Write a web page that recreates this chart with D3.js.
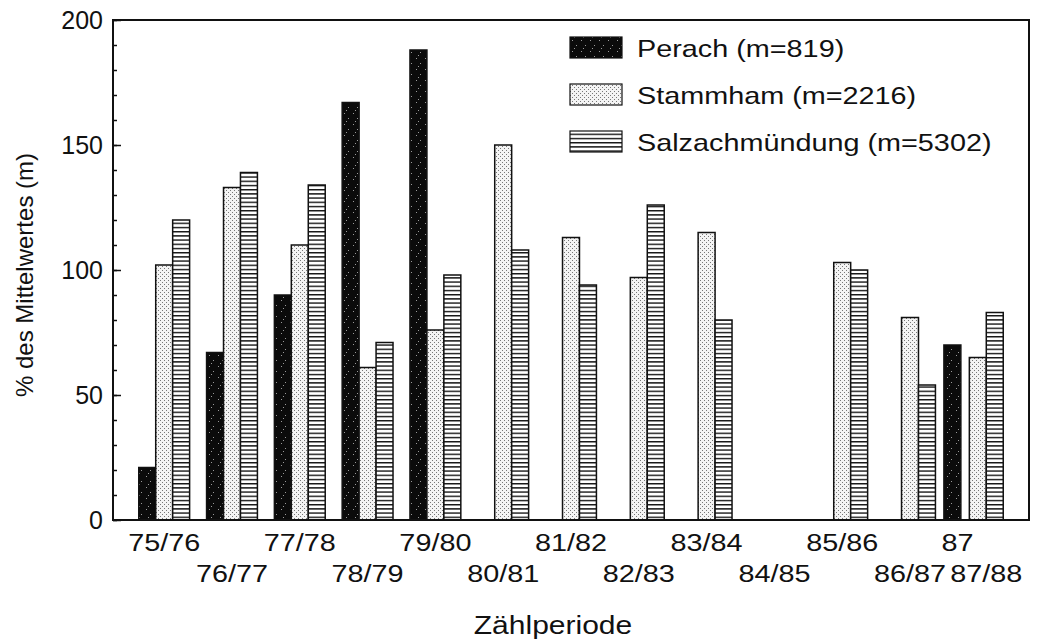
<!DOCTYPE html>
<html>
<head>
<meta charset="utf-8">
<script src="https://cdn.jsdelivr.net/npm/d3@7"></script>
<style>
  body { margin: 0; background: #fff; }
  text { font-family: "Liberation Sans", Arial, sans-serif; fill: #111; }
</style>
</head>
<body>
<div class="chart"></div>
<script>
// Zählperioden (Gruppen) und Werte in % des Mittelwertes
const periods = ["75/76", "76/77", "77/78", "78/79", "79/80", "80/81", "81/82",
                 "82/83", "83/84", "84/85", "85/86", "86/87", "87/88"];
const perach   = [21, 67, 90, 167, 188, null, null, null, null, null, null, null, null];
const stammham = [102, 133, 110, 61, 76, 150, 113, 97, 115, null, 103, 81, 65];
const salzach  = [120, 139, 134, 71, 98, 108, 94, 126, 80, null, 100, 54, 83];
// Einzelwert "87" (nur Perach), sitzt vor der Gruppe 87/88
const extraLabel = "87";
const extraPerach = 70;
const tickLabels = ["75/76", "76/77", "77/78", "78/79", "79/80", "80/81", "81/82",
                    "82/83", "83/84", "84/85", "85/86", "86/87", "87", "87/88"];
const seriesNames = ["Perach (m=819)", "Stammham (m=2216)", "Salzachmündung (m=5302)"];
const yTicks = [0, 50, 100, 150, 200];

const width = 1039, height = 642;
const margin = { top: 20, right: 10, bottom: 122, left: 113 };
const stretch = 1.2;

const svg = d3.select(".chart").append("svg")
    .attr("width", width)
    .attr("height", height);

// patterns
const defs = svg.append("defs");
const pDark = defs.append("pattern").attr("id", "pat-perach")
    .attr("patternUnits", "userSpaceOnUse").attr("width", 9).attr("height", 11);
pDark.append("rect").attr("width", 9).attr("height", 11).attr("fill", "#0b0b0b");
[[2, 3], [6, 8], [4, 0]].forEach(([px, py]) =>
  pDark.append("rect").attr("x", px).attr("y", py).attr("width", 1).attr("height", 1).attr("fill", "#9a9a9a"));

const pDot = defs.append("pattern").attr("id", "pat-stammham")
    .attr("patternUnits", "userSpaceOnUse").attr("width", 4).attr("height", 4);
pDot.append("rect").attr("width", 4).attr("height", 4).attr("fill", "#f4f4f4");
pDot.append("rect").attr("x", 0).attr("y", 0).attr("width", 1).attr("height", 1).attr("fill", "#777");
pDot.append("rect").attr("x", 2).attr("y", 2).attr("width", 1).attr("height", 1).attr("fill", "#777");

const pLine = defs.append("pattern").attr("id", "pat-salzach")
    .attr("patternUnits", "userSpaceOnUse").attr("width", 8).attr("height", 4.2);
pLine.append("rect").attr("width", 8).attr("height", 4.2).attr("fill", "#fff");
pLine.append("rect").attr("y", 0).attr("width", 8).attr("height", 1.4).attr("fill", "#111");

const fills = ["url(#pat-perach)", "url(#pat-stammham)", "url(#pat-salzach)"];

// scales
const x = d3.scaleBand()
    .domain(periods)
    .range([margin.left, width - margin.right])
    .paddingInner(0.25)
    .paddingOuter(0.38);

const sub = d3.scaleBand()
    .domain([0, 1, 2])
    .range([0, x.bandwidth()]);

const y = d3.scaleLinear()
    .domain([0, 200])
    .range([height - margin.bottom, margin.top]);

// bar data
const bars = [];
[perach, stammham, salzach].forEach((vals, s) => {
  vals.forEach((v, i) => {
    if (v != null) bars.push({ x: x(periods[i]) + sub(s), value: v, s });
  });
});
bars.push({ x: x("87/88") - sub.bandwidth() / 2, value: extraPerach, s: 0 });

svg.append("g")
  .selectAll("rect")
  .data(bars)
  .join("rect")
    .attr("x", d => d.x)
    .attr("y", d => y(d.value))
    .attr("width", sub.bandwidth())
    .attr("height", d => y(0) - y(d.value))
    .attr("fill", d => fills[d.s])
    .attr("stroke", "#111")
    .attr("stroke-width", 1.5);

// frame
svg.append("rect")
    .attr("x", margin.left)
    .attr("y", margin.top)
    .attr("width", width - margin.right - margin.left)
    .attr("height", y(0) - margin.top)
    .attr("fill", "none")
    .attr("stroke", "#111")
    .attr("stroke-width", 2);

// y axis: minor ticks + major ticks, pointing inward
svg.append("g")
    .attr("transform", `translate(${margin.left},0)`)
    .call(d3.axisLeft(y).ticks(20).tickSize(-4).tickFormat(""))
    .call(g => g.select(".domain").remove())
    .call(g => g.selectAll("line").attr("stroke", "#111").attr("stroke-width", 1.5));

svg.append("g")
    .attr("transform", `translate(${margin.left},0)`)
    .call(d3.axisLeft(y).tickValues(yTicks).tickSize(-8).tickPadding(10))
    .call(g => g.select(".domain").remove())
    .call(g => g.selectAll("line").attr("stroke", "#111").attr("stroke-width", 1.5))
    .call(g => g.selectAll("text")
        .attr("font-size", 25)
        .attr("font-family", "Liberation Sans, Arial, sans-serif")
        .attr("fill", "#111"));

svg.append("text")
    .attr("transform", `translate(33,${(margin.top + y(0)) / 2 + 5}) rotate(-90)`)
    .attr("text-anchor", "middle")
    .attr("font-size", 24)
    .text("% des Mittelwertes (m)");

// x labels, two alternating rows
const labelX = label => {
  if (label === extraLabel) return x("87/88") + 5;
  if (label === "87/88") return x(label) + sub(1) + sub.bandwidth();
  return x(label) + x.bandwidth() / 2;
};

svg.append("g")
  .selectAll("text")
  .data(tickLabels)
  .join("text")
    .attr("transform", (d, i) => `translate(${labelX(d)},${i % 2 ? 582 : 551}) scale(${stretch},1)`)
    .attr("text-anchor", "middle")
    .attr("font-size", 24)
    .text(d => d);

svg.append("text")
    .attr("transform", `translate(553,634) scale(${stretch},1)`)
    .attr("text-anchor", "middle")
    .attr("font-size", 25)
    .text("Zählperiode");

// legend
const legend = svg.append("g")
  .selectAll("g")
  .data(seriesNames)
  .join("g")
    .attr("transform", (d, i) => `translate(570,${48 + i * 47})`);

legend.append("rect")
    .attr("x", 0)
    .attr("y", -11)
    .attr("width", 52)
    .attr("height", 21)
    .attr("fill", (d, i) => fills[i])
    .attr("stroke", "#111")
    .attr("stroke-width", 1.2);

legend.append("text")
    .attr("transform", `translate(67,8.5) scale(${stretch},1)`)
    .attr("font-size", 24)
    .text(d => d);
</script>
</body>
</html>
